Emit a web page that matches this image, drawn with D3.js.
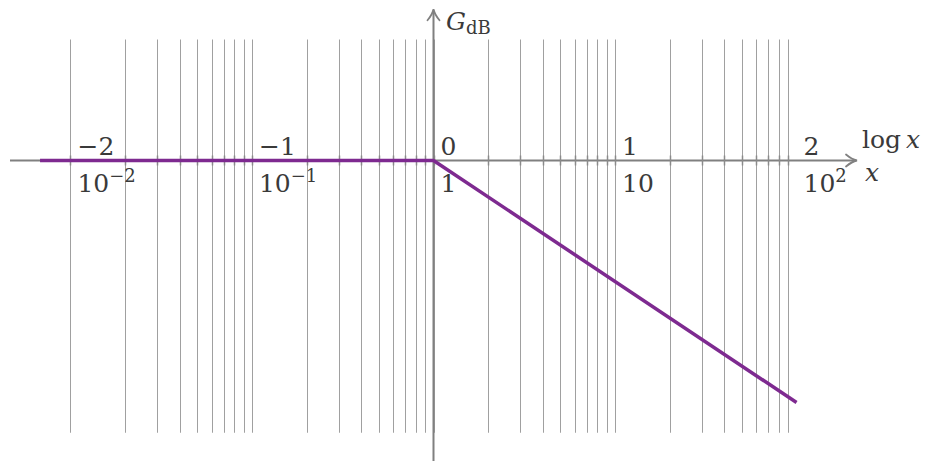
<!DOCTYPE html>
<html><head><meta charset="utf-8">
<script src="https://cdn.jsdelivr.net/npm/d3@7"></script>
<style>body{margin:0;background:#fff}svg{display:block}text{font-family:"DejaVu Serif",serif;fill:#3a3a3a}</style>
</head><body>
<svg id="c" width="928" height="461"></svg>
<script>
// data
const decadeExps = [-2, -1, 0, 1, 2];
const topLabels = ["\u22122", "\u22121", "0", "1", "2"];
const bottomBase = ["10", "10", "1", "10", "10"];
const bottomSup = ["\u22122", "\u22121", "", "", "2"];
const gridMultipliers = [1, 2, 3, 4, 5, 6, 7, 8, 9];
const gridDecades = [-2, -1, 0, 1];
const asymX = [0.0068, 1, 100];
const asymG = [0, 0, -40];

const svg = d3.select("#c");
const x = d3.scaleLog().domain([Math.pow(10, -2.333), Math.pow(10, 2.333)]).range([10, 857]);
const y = d3.scaleLinear().domain([-50, 25]).range([463, 9.25]);

const gridVals = [];
gridDecades.forEach(d => gridMultipliers.forEach(m => gridVals.push(m * Math.pow(10, d))));

// grid
svg.append("g").selectAll("line").data(gridVals).join("line")
  .attr("x1", d => Math.round(x(d)) + 0.5).attr("x2", d => Math.round(x(d)) + 0.5)
  .attr("y1", y(20)).attr("y2", y(-45))
  .attr("stroke", "#a0a0a0").attr("stroke-width", 1);

const axisColor = "#808080";
// x axis
svg.append("line").attr("x1", x(Math.pow(10, -2.333))).attr("x2", x(Math.pow(10, 2.333)) - 1)
  .attr("y1", y(0)).attr("y2", y(0)).attr("stroke", axisColor).attr("stroke-width", 2);
// ticks
svg.append("g").selectAll("line").data(gridVals).join("line")
  .attr("x1", d => Math.round(x(d)) + 0.5).attr("x2", d => Math.round(x(d)) + 0.5)
  .attr("y1", y(0) - 5).attr("y2", y(0) + 5)
  .attr("stroke", "#8a8a8a").attr("stroke-width", 1.5);
// y axis
const x0 = x(1);
svg.append("line").attr("x1", x0).attr("x2", x0).attr("y1", y(-50)).attr("y2", y(25) + 1)
  .attr("stroke", axisColor).attr("stroke-width", 2);

// arrowheads
const xe = x(Math.pow(10, 2.333)), y0 = y(0);
svg.append("path").attr("d", `M${xe-11},${y0-6} Q${xe-5},${y0-1} ${xe},${y0} Q${xe-5},${y0+1} ${xe-11},${y0+6}`)
  .attr("fill", "none").attr("stroke", axisColor).attr("stroke-width", 1.8).attr("stroke-linecap", "round");
const ye = y(25);
svg.append("path").attr("d", `M${x0-6},${ye+11} Q${x0-1},${ye+5} ${x0},${ye} Q${x0+1},${ye+5} ${x0+6},${ye+11}`)
  .attr("fill", "none").attr("stroke", axisColor).attr("stroke-width", 1.8).attr("stroke-linecap", "round");

// asymptote
const pts = asymX.map((v, i) => [v, asymG[i]]);
svg.append("path").datum(pts)
  .attr("d", d3.line().x(d => x(d[0])).y(d => y(d[1])))
  .attr("fill", "none").attr("stroke", "#7e2a90").attr("stroke-width", 3.5).attr("stroke-linejoin", "round");

// tick labels
const lab = svg.append("g");
decadeExps.forEach((e, i) => {
  const tx = x(Math.pow(10, e)) + 7;
  lab.append("text").attr("x", tx).attr("y", y0 - 6).attr("font-size", 25).text(topLabels[i]);
  const t = lab.append("text").attr("x", tx).attr("y", y0 + 31).attr("font-size", 25);
  t.append("tspan").text(bottomBase[i]);
  if (bottomSup[i]) t.append("tspan").attr("font-size", 18).attr("dy", -10).text(bottomSup[i]);
});

// axis titles
const tl = svg.append("text").attr("x", 862).attr("y", 148).attr("font-size", 25);
tl.append("tspan").text("log\u2009");
tl.append("tspan").attr("font-style", "italic").text("x");
svg.append("text").attr("x", 865).attr("y", 181).attr("font-size", 25).attr("font-style", "italic").text("x");
const gt = svg.append("text").attr("x", 446).attr("y", 30).attr("font-size", 25);
gt.append("tspan").attr("font-style", "italic").text("G");
gt.append("tspan").attr("font-size", 18).attr("dy", 4).text("dB");
</script>
</body></html>
